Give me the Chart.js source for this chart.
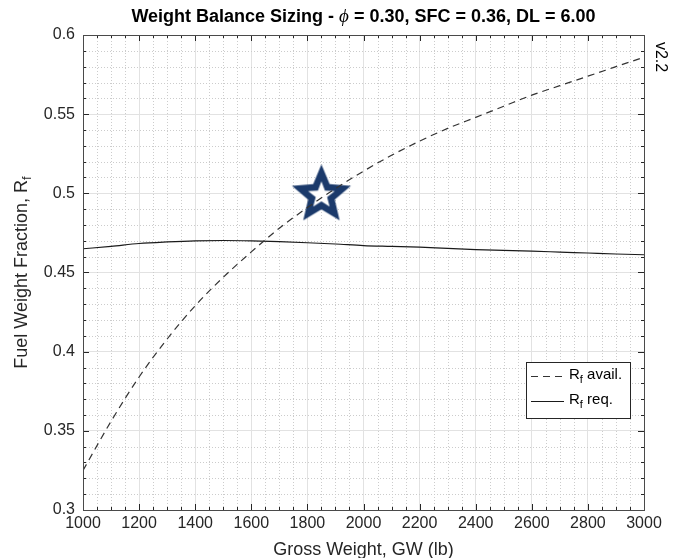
<!DOCTYPE html>
<html>
<head>
<meta charset="utf-8">
<script src="https://cdn.jsdelivr.net/npm/chart.js@4.4.0/dist/chart.umd.min.js"></script>
<style>
    html, body { margin: 0; padding: 0; background: #fff; }
</style>
</head>
<body>
<canvas id="sizingChart" width="678" height="558"></canvas>
<script>
// gross weight samples (lb)
const grossWeight = [1000, 1100, 1200, 1300, 1400, 1500, 1600, 1700, 1800, 1900, 2000,
                     2100, 2200, 2300, 2400, 2500, 2600, 2700, 2800, 2900, 3000];
// fuel weight fraction available (dashed)
const rfAvail = [0.325, 0.356, 0.384, 0.408, 0.429, 0.447, 0.463, 0.478, 0.491, 0.503, 0.514,
                 0.524, 0.533, 0.541, 0.548, 0.555, 0.562, 0.568, 0.574, 0.580, 0.586];
// fuel weight fraction required (solid)
const rfReq = [0.4650, 0.4665, 0.4683, 0.4693, 0.4700, 0.4702, 0.4700, 0.4695, 0.4688, 0.4680, 0.4670,
               0.4665, 0.4660, 0.4652, 0.4645, 0.4640, 0.4635, 0.4629, 0.4623, 0.4617, 0.4612];
// design point (star)
const designGW = [1850];
const designRf = [0.50];

const FONT = '"Liberation Sans", Arial, Helvetica, sans-serif';
const TEXT_COLOR = '#262626';

// star marker image
function makeStar() {
    const c = document.createElement('canvas');
    c.width = 66;
    c.height = 66;
    const g = c.getContext('2d');
    function star(R, r, color) {
        g.beginPath();
        for (let i = 0; i < 10; i++) {
            const rad = i % 2 === 0 ? R : r;
            const a = -Math.PI / 2 + i * Math.PI / 5;
            const px = 33 + rad * Math.cos(a);
            const py = 35 + rad * Math.sin(a);
            if (i === 0) g.moveTo(px, py); else g.lineTo(px, py);
        }
        g.closePath();
        g.fillStyle = color;
        g.fill();
    }
    star(31, 14, '#1b3a6b');
    star(14, 6, '#ffffff');
    return c;
}

// draws text with a subscript, returns width
function subText(ctx, x, y, main, sub, size, measureOnly) {
    ctx.font = size + 'px ' + FONT;
    const w1 = ctx.measureText(main).width;
    ctx.font = Math.round(size * 0.7) + 'px ' + FONT;
    const w2 = ctx.measureText(sub).width;
    if (!measureOnly) {
        ctx.font = size + 'px ' + FONT;
        ctx.fillText(main, x, y);
        ctx.font = Math.round(size * 0.7) + 'px ' + FONT;
        ctx.fillText(sub, x + w1, y + size * 0.3);
    }
    return w1 + w2;
}

const matlabLook = {
    id: 'matlabLook',
    beforeDatasetsDraw(chart) {
        const ctx = chart.ctx;
        const a = chart.chartArea;
        const xs = chart.scales.x;
        const ys = chart.scales.y;
        ctx.save();
        ctx.strokeStyle = '#cccccc';
        ctx.lineWidth = 1;
        ctx.setLineDash([1, 2]);
        for (let v = 1050; v < 3000; v += 50) {
            if (v % 200 === 0) continue;
            const px = Math.round(xs.getPixelForValue(v)) + 0.5;
            ctx.beginPath();
            ctx.moveTo(px, a.top);
            ctx.lineTo(px, a.bottom);
            ctx.stroke();
        }
        for (let i = 31; i < 60; i++) {
            if (i % 5 === 0) continue;
            const py = Math.round(ys.getPixelForValue(i / 100)) + 0.5;
            ctx.beginPath();
            ctx.moveTo(a.left, py);
            ctx.lineTo(a.right, py);
            ctx.stroke();
        }
        ctx.restore();
    },
    afterDatasetsDraw(chart) {
        const ctx = chart.ctx;
        const a = chart.chartArea;
        const xs = chart.scales.x;
        const ys = chart.scales.y;
        ctx.save();
        ctx.setLineDash([]);
        ctx.strokeStyle = TEXT_COLOR;
        ctx.lineWidth = 1;
        // tick marks on all four sides, inward
        for (let v = 1000; v <= 3000; v += 50) {
            const px = Math.round(xs.getPixelForValue(v)) + 0.5;
            const len = v % 200 === 0 ? 6 : 3;
            ctx.beginPath();
            ctx.moveTo(px, a.bottom);
            ctx.lineTo(px, a.bottom - len);
            ctx.moveTo(px, a.top);
            ctx.lineTo(px, a.top + len);
            ctx.stroke();
        }
        for (let i = 30; i <= 60; i++) {
            const py = Math.round(ys.getPixelForValue(i / 100)) + 0.5;
            const len = i % 5 === 0 ? 6 : 3;
            ctx.beginPath();
            ctx.moveTo(a.left, py);
            ctx.lineTo(a.left + len, py);
            ctx.moveTo(a.right, py);
            ctx.lineTo(a.right - len, py);
            ctx.stroke();
        }
        // box
        ctx.strokeStyle = '#4a4a4a';
        ctx.strokeRect(Math.round(a.left) + 0.5, Math.round(a.top) + 0.5,
                       Math.round(a.right - a.left), Math.round(a.bottom - a.top));

        // legend
        const lx = 526, ly = 362, lw = 104, lh = 56;
        ctx.fillStyle = '#fff';
        ctx.fillRect(lx, ly, lw, lh);
        ctx.strokeStyle = '#262626';
        ctx.strokeRect(lx + 0.5, ly + 0.5, lw, lh);
        ctx.lineWidth = 1.2;
        ctx.strokeStyle = '#333';
        ctx.setLineDash([7, 5]);
        ctx.beginPath();
        ctx.moveTo(531, 376.5);
        ctx.lineTo(564, 376.5);
        ctx.stroke();
        ctx.setLineDash([]);
        ctx.strokeStyle = '#1a1a1a';
        ctx.beginPath();
        ctx.moveTo(531, 401.5);
        ctx.lineTo(564, 401.5);
        ctx.stroke();
        ctx.fillStyle = '#000';
        ctx.textBaseline = 'middle';
        ctx.textAlign = 'left';
        let w = subText(ctx, 569, 375, 'R', 'f', 15);
        ctx.font = '15px ' + FONT;
        ctx.fillText(' avail.', 569 + w, 375);
        w = subText(ctx, 569, 400, 'R', 'f', 15);
        ctx.font = '15px ' + FONT;
        ctx.fillText(' req.', 569 + w, 400);
        ctx.restore();
    },
    afterDraw(chart) {
        const ctx = chart.ctx;
        const a = chart.chartArea;
        const cx = (a.left + a.right) / 2;
        const cy = (a.top + a.bottom) / 2;
        ctx.save();
        ctx.textBaseline = 'middle';
        ctx.textAlign = 'left';

        // title with italic phi
        const parts = [
            { t: 'Weight Balance Sizing - ', f: 'bold 18px ' + FONT },
            { t: '\u03D5', f: 'italic 19px "Liberation Serif", "DejaVu Serif", serif' },
            { t: ' = 0.30, SFC = 0.36, DL = 6.00', f: 'bold 18px ' + FONT }
        ];
        let total = 0;
        parts.forEach(p => { ctx.font = p.f; p.w = ctx.measureText(p.t).width; total += p.w; });
        let tx = cx - total / 2;
        ctx.fillStyle = '#000';
        parts.forEach(p => { ctx.font = p.f; ctx.fillText(p.t, tx, 17); tx += p.w; });

        // x axis title
        ctx.fillStyle = TEXT_COLOR;
        ctx.textAlign = 'center';
        ctx.font = '18px ' + FONT;
        ctx.fillText('Gross Weight, GW (lb)', cx, 550);

        // y axis title with subscript
        ctx.translate(22, cy);
        ctx.rotate(-Math.PI / 2);
        ctx.textAlign = 'left';
        ctx.font = '18px ' + FONT;
        const lead = 'Fuel Weight Fraction, ';
        const wl = ctx.measureText(lead).width;
        const ws = subText(ctx, 0, 0, 'R', 'f', 18, true);
        const sx = -(wl + ws) / 2;
        ctx.font = '18px ' + FONT;
        ctx.fillText(lead, sx, 0);
        subText(ctx, sx + wl, 0, 'R', 'f', 18);
        ctx.restore();

        // version tag
        ctx.save();
        ctx.translate(660, 57);
        ctx.rotate(Math.PI / 2);
        ctx.fillStyle = '#000';
        ctx.textAlign = 'center';
        ctx.textBaseline = 'middle';
        ctx.font = '16px ' + FONT;
        ctx.fillText('v2.2', 0, 0);
        ctx.restore();
    }
};

const ctx = document.getElementById('sizingChart').getContext('2d');
const myChart = new Chart(ctx, {
    type: 'line',
    data: {
        datasets: [
            {
                label: 'Rf avail.',
                data: grossWeight.map((gw, i) => ({ x: gw, y: rfAvail[i] })),
                borderColor: '#333333',
                borderWidth: 1.2,
                borderDash: [7, 5],
                pointRadius: 0,
                cubicInterpolationMode: 'monotone',
                fill: false
            },
            {
                label: 'Rf req.',
                data: grossWeight.map((gw, i) => ({ x: gw, y: rfReq[i] })),
                borderColor: '#1a1a1a',
                borderWidth: 1.2,
                pointRadius: 0,
                cubicInterpolationMode: 'monotone',
                fill: false
            },
            {
                label: 'design',
                type: 'scatter',
                data: designGW.map((gw, i) => ({ x: gw, y: designRf[i] })),
                pointStyle: makeStar(),
                pointRadius: 33,
                showLine: false
            }
        ]
    },
    options: {
        responsive: false,
        animation: false,
        events: [],
        layout: {
            padding: { top: 35, right: 29, left: 0, bottom: 0 }
        },
        plugins: {
            legend: { display: false },
            title: { display: false },
            tooltip: { enabled: false }
        },
        scales: {
            x: {
                type: 'linear',
                min: 1000,
                max: 3000,
                afterFit: s => { s.height = 48; },
                ticks: {
                    stepSize: 200,
                    color: TEXT_COLOR,
                    padding: 4,
                    maxRotation: 0,
                    font: { family: FONT, size: 16 },
                    callback: v => String(v)
                },
                grid: {
                    color: '#e2e2e2',
                    drawTicks: false
                },
                border: { display: false }
            },
            y: {
                type: 'linear',
                min: 0.3,
                max: 0.6,
                afterFit: s => { s.width = 83; },
                ticks: {
                    stepSize: 0.05,
                    color: TEXT_COLOR,
                    padding: 8,
                    font: { family: FONT, size: 16 },
                    callback: v => String(+v.toFixed(2))
                },
                grid: {
                    color: '#e2e2e2',
                    drawTicks: false
                },
                border: { display: false }
            }
        }
    },
    plugins: [matlabLook]
});
</script>
</body>
</html>
